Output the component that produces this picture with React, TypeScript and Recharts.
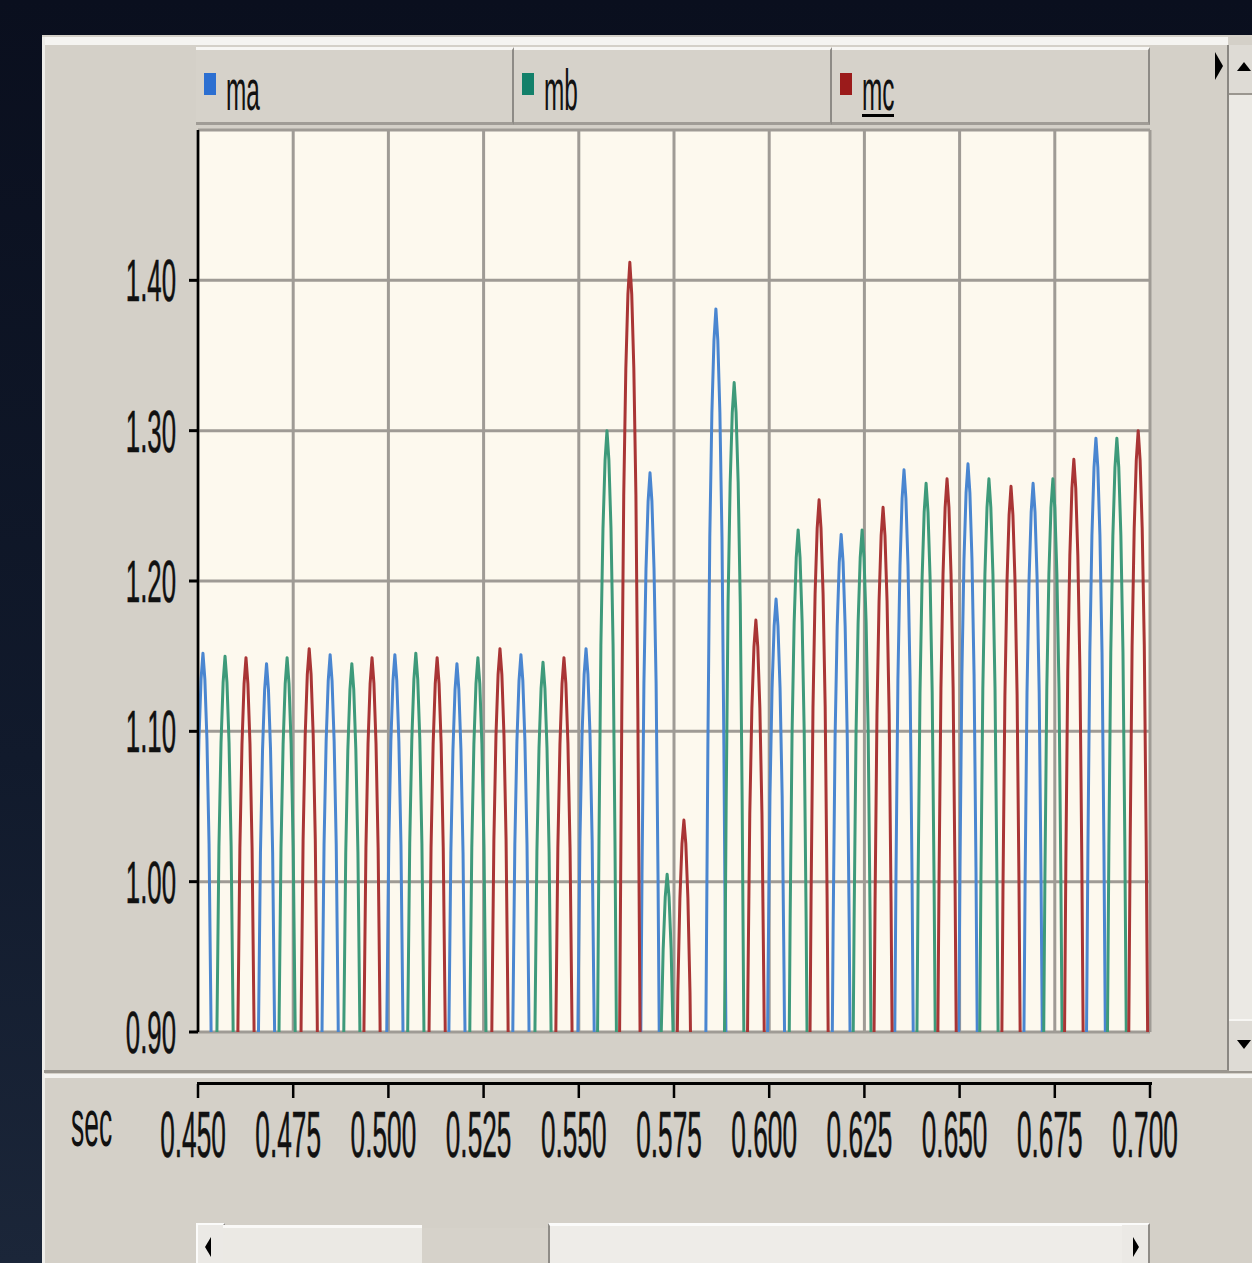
import React from "react";
import { LineChart, Line, XAxis, YAxis, CartesianGrid, Legend } from "recharts";

// peak time (sec) and peak value of every pulse
const maPeakT = [0.4513, 0.468, 0.4847, 0.5017, 0.518, 0.5348, 0.5519, 0.5687, 0.586, 0.6018, 0.6189, 0.6354, 0.6522, 0.6693, 0.6858];
const maPeakV = [1.152, 1.145, 1.151, 1.151, 1.145, 1.151, 1.155, 1.272, 1.381, 1.188, 1.231, 1.274, 1.278, 1.265, 1.295];

const mbPeakT = [0.4571, 0.4734, 0.4904, 0.5072, 0.5235, 0.5406, 0.5574, 0.5732, 0.5908, 0.6076, 0.6244, 0.6412, 0.6577, 0.6745, 0.6913];
const mbPeakV = [1.15, 1.149, 1.145, 1.152, 1.149, 1.146, 1.3, 1.005, 1.332, 1.234, 1.234, 1.265, 1.268, 1.268, 1.295];

const mcPeakT = [0.4626, 0.4792, 0.4957, 0.5128, 0.5293, 0.5461, 0.5634, 0.5776, 0.5965, 0.6131, 0.6299, 0.6467, 0.6635, 0.68, 0.6969];
const mcPeakV = [1.149, 1.155, 1.149, 1.149, 1.155, 1.149, 1.412, 1.041, 1.174, 1.254, 1.249, 1.268, 1.263, 1.281, 1.3];

// shape of one pulse around its peak: offset in ms, fraction of the peak value
const pulseOffsetMs = [-3.2, -2.6, -2.1, -1.6, -1.05, -0.5, 0, 0.5, 1.05, 1.6, 2.1, 2.6, 3.2];
const pulseFrac = [0.5, 0.66, 0.79, 0.89, 0.95, 0.985, 1, 0.985, 0.95, 0.89, 0.79, 0.66, 0.5];

const seriesNames = ["ma", "mb", "mc"];
const seriesColors = ["#4a86d0", "#3e9a7a", "#a93535"];
const legendColors = ["#2c6fd1", "#13806a", "#9b1b1b"];

const timeTicks = [0.45, 0.475, 0.5, 0.525, 0.55, 0.575, 0.6, 0.625, 0.65, 0.675, 0.7];
const timeLabels = ["0.450", "0.475", "0.500", "0.525", "0.550", "0.575", "0.600", "0.625", "0.650", "0.675", "0.700"];
const valueTicks = [0.9, 1.0, 1.1, 1.2, 1.3, 1.4];
const valueLabels = ["0.90", "1.00", "1.10", "1.20", "1.30", "1.40"];

const buildTrace = (ts: number[], vs: number[]) =>
  ts.flatMap((t, i) =>
    pulseOffsetMs.map((o, j) => ({ t: t + o / 1000, v: vs[i] * pulseFrac[j] }))
  );

const traces = [
  buildTrace(maPeakT, maPeakV),
  buildTrace(mbPeakT, mbPeakV),
  buildTrace(mcPeakT, mcPeakV),
];

const FONT = "'Liberation Sans', Arial, sans-serif";

const YTick = (props: any) => {
  const { x, y, payload } = props;
  const i = valueTicks.findIndex((v) => Math.abs(v - payload.value) < 1e-6);
  return (
    <text
      transform={`translate(${x},${y + 21}) scale(0.43,1)`}
      textAnchor="end"
      fontSize={60}
      fontFamily={FONT}
      fill="#111"
      stroke="#111"
      strokeWidth={0.6}
    >
      {valueLabels[i]}
    </text>
  );
};

const XTick = (props: any) => {
  const { x, y, payload } = props;
  const i = timeTicks.findIndex((v) => Math.abs(v - payload.value) < 1e-6);
  return (
    <g>
      <line x1={x} x2={x} y1={y + 52} y2={y + 66} stroke="#000" strokeWidth={2.5} />
      <text
        transform={`translate(${x - 5},${y + 125}) scale(0.41,1)`}
        textAnchor="middle"
        fontSize={64}
        fontFamily={FONT}
        fill="#111"
        stroke="#111"
        strokeWidth={0.6}
      >
        {timeLabels[i]}
      </text>
    </g>
  );
};

const LegendTabs = () => (
  <div style={{ position: "relative", width: 955, height: 76 }}>
    {seriesNames.map((name, i) => (
      <div
        key={name}
        style={{
          position: "absolute",
          left: i * 318,
          top: 0,
          width: 316,
          height: 72,
          background: "#d6d2ca",
          borderTop: "3px solid #f7f6f3",
          borderRight: "2px solid #8e8b86",
          borderBottom: "3px solid #a09c96",
        }}
      >
        <div
          style={{
            position: "absolute",
            left: 8,
            top: 23,
            width: 12,
            height: 22,
            background: legendColors[i],
          }}
        />
        <div
          style={{
            position: "absolute",
            left: 30,
            top: 11,
            fontFamily: FONT,
            fontSize: 58,
            lineHeight: "58px",
            color: "#111",
            transform: "scaleX(0.42)",
            transformOrigin: "left top",
            whiteSpace: "nowrap",
          }}
        >
          {name}
        </div>
        {i === 2 && (
          <div
            style={{
              position: "absolute",
              left: 30,
              top: 64,
              width: 32,
              height: 3,
              background: "#000",
            }}
          />
        )}
      </div>
    ))}
  </div>
);

const box = (s: React.CSSProperties) => <div style={{ position: "absolute", ...s }} />;

const App = () => (
  <div
    style={{
      position: "absolute",
      left: 0,
      top: 0,
      width: 1252,
      height: 1263,
      overflow: "hidden",
      background: "linear-gradient(to bottom, #0a0f1e 0%, #111a2c 60%, #1b2639 100%)",
    }}
  >
    {/* window panel */}
    {box({ left: 42, top: 35, width: 1210, height: 1228, background: "#d4d0c8" })}
    {box({ left: 44, top: 37, width: 1184, height: 8, background: "#f5f4f1" })}
    {box({ left: 42, top: 37, width: 3, height: 1226, background: "#eeede9" })}
    {/* separator above time axis */}
    {box({ left: 44, top: 1070, width: 1208, height: 3, background: "#9a968f" })}
    {box({ left: 44, top: 1074, width: 1208, height: 4, background: "#f4f3f0" })}
    {/* time axis line */}
    {box({ left: 197, top: 1082, width: 955, height: 3, background: "#000" })}
    <div
      style={{
        position: "absolute",
        left: 71,
        top: 1090,
        fontFamily: FONT,
        fontSize: 66,
        lineHeight: "66px",
        color: "#111",
        transform: "scaleX(0.4)",
        transformOrigin: "left top",
      }}
    >
      sec
    </div>
    {/* right arrow by the legend */}
    {box({
      left: 1215,
      top: 52,
      width: 0,
      height: 0,
      borderTop: "14px solid transparent",
      borderBottom: "14px solid transparent",
      borderLeft: "8px solid #000",
    })}
    {/* vertical scrollbar */}
    {box({ left: 1227, top: 45, width: 25, height: 1025, background: "#ebe9e4", borderLeft: "2px solid #8a8782" })}
    {box({ left: 1229, top: 45, width: 23, height: 48, background: "#dedbd5", borderBottom: "2px solid #9a968f" })}
    {box({
      left: 1237,
      top: 62,
      width: 0,
      height: 0,
      borderLeft: "7px solid transparent",
      borderRight: "7px solid transparent",
      borderBottom: "9px solid #000",
    })}
    {box({ left: 1229, top: 1019, width: 23, height: 50, background: "#dedbd5", borderTop: "2px solid #f7f6f3" })}
    {box({
      left: 1237,
      top: 1040,
      width: 0,
      height: 0,
      borderLeft: "7px solid transparent",
      borderRight: "7px solid transparent",
      borderTop: "9px solid #000",
    })}
    {/* horizontal scrollbar */}
    {box({ left: 196, top: 1223, width: 25, height: 40, background: "#ebe9e5", borderTop: "2px solid #fbfbfa", borderLeft: "2px solid #fbfbfa", borderRight: "2px solid #8f8c87" })}
    {box({
      left: 205,
      top: 1237,
      width: 0,
      height: 0,
      borderTop: "10px solid transparent",
      borderBottom: "10px solid transparent",
      borderRight: "6px solid #000",
    })}
    {box({ left: 223, top: 1225, width: 199, height: 38, background: "#ebe9e4", borderTop: "3px solid #faf9f7" })}
    {box({ left: 422, top: 1228, width: 126, height: 35, background: "#d6d2ca" })}
    {box({ left: 548, top: 1223, width: 572, height: 40, background: "#eeece8", borderTop: "3px solid #fbfbfa", borderLeft: "2px solid #8f8c87", borderRight: "2px solid #8f8c87" })}
    {box({ left: 1122, top: 1223, width: 26, height: 40, background: "#ebe9e5", borderTop: "2px solid #fbfbfa", borderRight: "2px solid #8f8c87" })}
    {box({
      left: 1133,
      top: 1237,
      width: 0,
      height: 0,
      borderTop: "10px solid transparent",
      borderBottom: "10px solid transparent",
      borderLeft: "6px solid #000",
    })}

    <div style={{ position: "absolute", left: 0, top: 0 }}>
      <LineChart width={1252} height={1263} margin={{ top: 130, right: 102, bottom: 81, left: 98 }}>
        <CartesianGrid stroke="#9f9b95" strokeWidth={3} fill="#fdf9ee" />
        <XAxis
          dataKey="t"
          type="number"
          domain={[0.45, 0.7]}
          ticks={timeTicks}
          interval={0}
          allowDataOverflow
          axisLine={false}
          tickLine={false}
          tickSize={0}
          tickMargin={0}
          height={150}
          tick={<XTick />}
        />
        <YAxis
          type="number"
          domain={[0.9, 1.5]}
          ticks={valueTicks}
          interval={0}
          allowDataOverflow
          width={100}
          axisLine={{ stroke: "#000", strokeWidth: 2.5 }}
          tickLine={{ stroke: "#000", strokeWidth: 3 }}
          tickSize={9}
          tickMargin={13}
          tick={<YTick />}
        />
        <Legend
          layout="vertical"
          align="center"
          verticalAlign="middle"
          wrapperStyle={{ left: 196, top: 47, width: 955, height: 76 }}
          content={() => <LegendTabs />}
        />
        {traces.map((d, i) => (
          <Line
            key={seriesNames[i]}
            data={d}
            dataKey="v"
            name={seriesNames[i]}
            type="linear"
            stroke={seriesColors[i]}
            strokeWidth={3}
            strokeLinejoin="round"
            dot={false}
            activeDot={false}
            isAnimationActive={false}
          />
        ))}
      </LineChart>
    </div>
  </div>
);

export default App;
